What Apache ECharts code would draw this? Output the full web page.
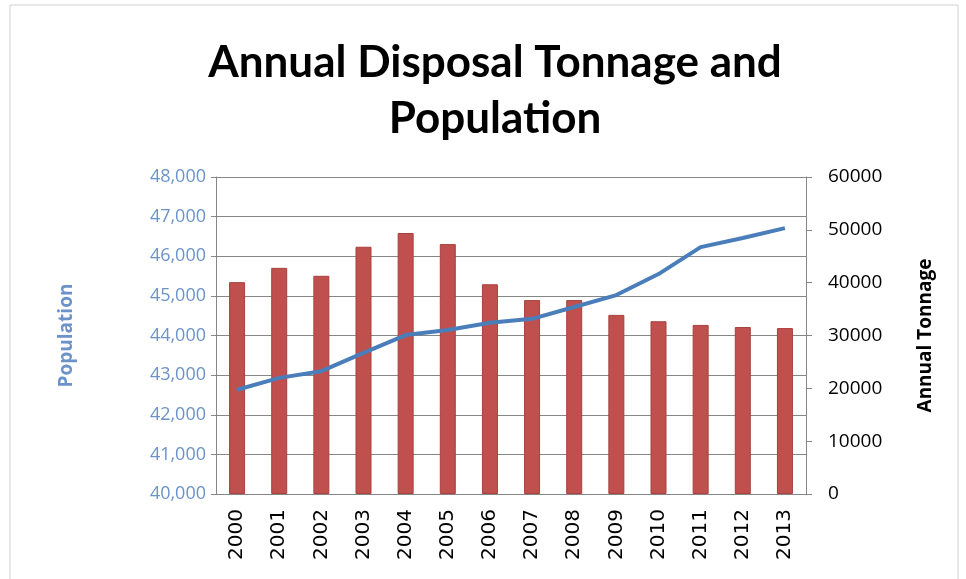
<!DOCTYPE html>
<html><head><meta charset="utf-8">
<script src="https://cdn.jsdelivr.net/npm/echarts@6/dist/echarts.min.js"></script>
<style>html,body{margin:0;padding:0;background:#fff}#c{width:966px;height:579px}</style>
</head><body><div id="c"></div>
<script>
const years = ['2000','2001','2002','2003','2004','2005','2006','2007','2008','2009','2010','2011','2012','2013'];
const tonnage = [40100,42800,41300,46800,49400,47300,39700,36700,36700,33900,32700,32000,31600,31400];
const population = [42630,42930,43100,43560,44010,44140,44320,44420,44720,45020,45550,46230,46460,46710];
const popTicks = [40000,41000,42000,43000,44000,45000,46000,47000,48000];
const tonTicks = [0,10000,20000,30000,40000,50000,60000];

const chart = echarts.init(document.getElementById('c'));
chart.setOption({
  animation:false,
  title:{text:'Annual Disposal Tonnage and\nPopulation',left:490,textAlign:'center',top:30,
    textStyle:{fontFamily:'Lato',fontWeight:'bold',fontSize:44,lineHeight:56,color:'#000'}},
  graphic:[{type:'rect',shape:{x:10,y:5,width:948,height:580},style:{fill:'none',stroke:'#d0d0d0',lineWidth:1},silent:true}],
  grid:{left:216,right:160,top:177,bottom:85},
  xAxis:{type:'category',data:years,
    axisLine:{lineStyle:{color:'#868686'}},axisTick:{show:false},
    axisLabel:{rotate:90,fontFamily:'DejaVu Sans',fontSize:20,color:'#000',margin:15}},
  yAxis:[
    {type:'value',min:40000,max:48000,interval:1000,position:'left',
     name:'Population',nameLocation:'middle',nameGap:140,nameRotate:90,
     nameTextStyle:{color:'#6b93c9',fontFamily:'Open Sans',fontWeight:'bold',fontSize:19},
     axisLine:{show:true,lineStyle:{color:'#868686'}},axisTick:{show:true,length:5,lineStyle:{color:'#868686'}},
     splitLine:{show:true,lineStyle:{color:'#868686',width:1}},
     axisLabel:{color:'#6b93c9',fontFamily:'Open Sans',fontSize:18,margin:10,
       formatter:v=>v.toLocaleString('en-US')}},
    {type:'value',min:0,max:60000,interval:10000,position:'right',
     name:'Annual Tonnage',nameLocation:'middle',nameGap:110,nameRotate:90,
     nameTextStyle:{color:'#000',fontFamily:'Open Sans',fontWeight:'bold',fontSize:19},
     axisLine:{show:true,lineStyle:{color:'#868686'}},axisTick:{show:true,length:6,lineStyle:{color:'#868686'}},
     splitLine:{show:false},
     axisLabel:{color:'#000',fontFamily:'Open Sans',fontSize:19,margin:22,formatter:v=>String(v)}}
  ],
  series:[
    {type:'bar',yAxisIndex:1,data:tonnage,barWidth:16,
     itemStyle:{color:'#c0504d',borderColor:'#a8403d',borderWidth:1}},
    {type:'line',yAxisIndex:0,data:population,symbol:'none',
     lineStyle:{color:'#4a7ebb',width:4}}
  ]
});
</script></body></html>
